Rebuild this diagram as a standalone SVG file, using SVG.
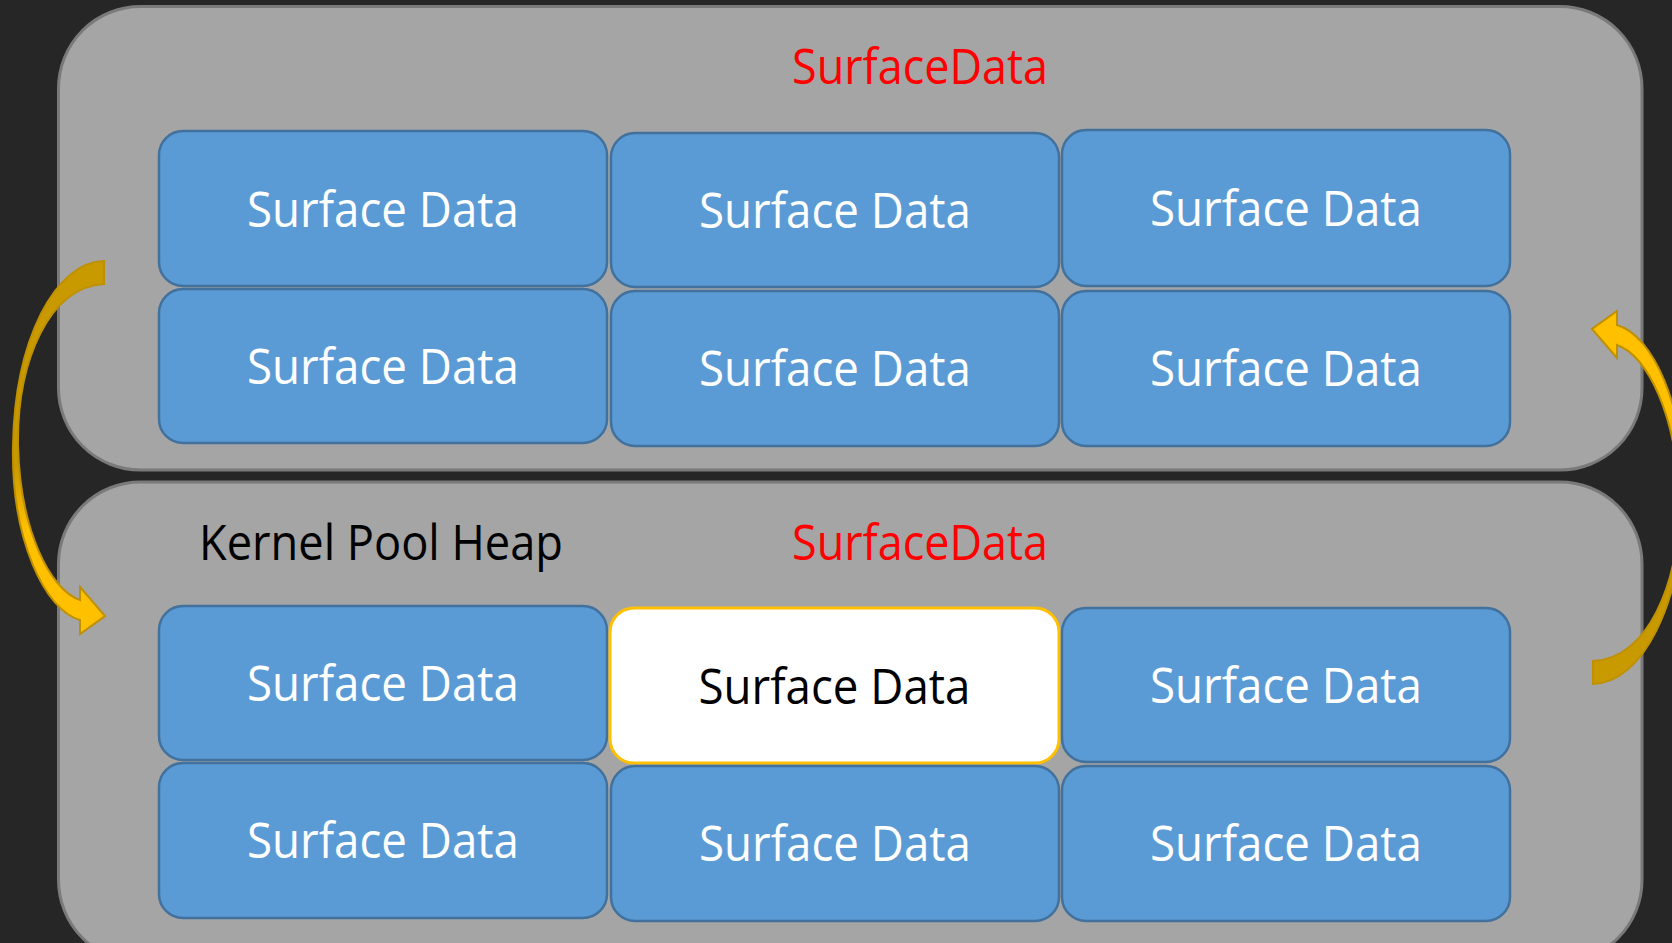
<svg xmlns="http://www.w3.org/2000/svg" width="1672" height="943" viewBox="0 0 1672 943">
<style>
.panel{fill:#a5a5a5;stroke:#7a7a7a;stroke-width:3}
.box{fill:#5b9bd5;stroke:#41719c;stroke-width:2.5}
.sel{fill:#ffffff;stroke:#ffc000;stroke-width:3}
.lbl{font-family:"Open Sans","Liberation Sans",sans-serif;font-size:50px;text-anchor:middle;fill:#ffffff}
.dark{fill:#000000}
.title{font-family:"Open Sans","Liberation Sans",sans-serif;font-size:50px;fill:#ff0000;text-anchor:middle}
.heap{font-family:"Open Sans","Liberation Sans",sans-serif;font-size:50px;fill:#000000}
.arrow{stroke:#bf9000;stroke-width:2;stroke-linejoin:miter}
</style>
<defs>
<linearGradient id="gold" gradientUnits="userSpaceOnUse" x1="0" y1="261" x2="0" y2="634">
<stop offset="0" stop-color="#c99a00"/>
<stop offset="0.55" stop-color="#c99a00"/>
<stop offset="0.72" stop-color="#ffc000"/>
<stop offset="1" stop-color="#ffc000"/>
</linearGradient>
<path id="curved" class="arrow" fill="url(#gold)" d="M104,261 C55,262 15,340 13,445 C11,540 45,610 80,620 L80,634 L105,616 L80,587 L80,600 C50,590 20,530 18,445 C17,360 50,286 104,284 Z"/>
</defs>
<rect width="1672" height="943" fill="#262626"/>
<g id="panel-top">
<rect class="panel" x="58.5" y="6.5" width="1583.5" height="463.5" rx="82" ry="82"/>
<text class="title" x="920" y="84" textLength="256" lengthAdjust="spacingAndGlyphs">SurfaceData</text>
</g>
<g id="panel-bottom">
<rect class="panel" x="58.5" y="482" width="1583.5" height="480" rx="82" ry="82"/>
<text class="heap" x="199" y="560" textLength="364" lengthAdjust="spacingAndGlyphs">Kernel Pool Heap</text>
<text class="title" x="920" y="560" textLength="256" lengthAdjust="spacingAndGlyphs">SurfaceData</text>
</g>
<g id="node-a1"><rect class="box" x="159" y="131" width="448" height="155" rx="24"/><text class="lbl" x="383" y="227" textLength="272" lengthAdjust="spacingAndGlyphs">Surface Data</text></g>
<g id="node-a2"><rect class="box" x="611" y="133" width="448" height="154" rx="24"/><text class="lbl" x="835" y="228" textLength="272" lengthAdjust="spacingAndGlyphs">Surface Data</text></g>
<g id="node-a3"><rect class="box" x="1062" y="130" width="448" height="156" rx="24"/><text class="lbl" x="1286" y="226" textLength="272" lengthAdjust="spacingAndGlyphs">Surface Data</text></g>
<g id="node-b1"><rect class="box" x="159" y="289" width="448" height="154" rx="24"/><text class="lbl" x="383" y="384" textLength="272" lengthAdjust="spacingAndGlyphs">Surface Data</text></g>
<g id="node-b2"><rect class="box" x="611" y="291" width="448" height="155" rx="24"/><text class="lbl" x="835" y="386" textLength="272" lengthAdjust="spacingAndGlyphs">Surface Data</text></g>
<g id="node-b3"><rect class="box" x="1062" y="291" width="448" height="155" rx="24"/><text class="lbl" x="1286" y="386" textLength="272" lengthAdjust="spacingAndGlyphs">Surface Data</text></g>
<g id="node-c1"><rect class="box" x="159" y="606" width="448" height="154" rx="24"/><text class="lbl" x="383" y="701" textLength="272" lengthAdjust="spacingAndGlyphs">Surface Data</text></g>
<g id="node-c2"><rect class="sel" x="610" y="608" width="449" height="155" rx="24"/><text class="lbl dark" x="834.5" y="704" textLength="272" lengthAdjust="spacingAndGlyphs">Surface Data</text></g>
<g id="node-c3"><rect class="box" x="1062" y="608" width="448" height="154" rx="24"/><text class="lbl" x="1286" y="703" textLength="272" lengthAdjust="spacingAndGlyphs">Surface Data</text></g>
<g id="node-d1"><rect class="box" x="159" y="763" width="448" height="155" rx="24"/><text class="lbl" x="383" y="858" textLength="272" lengthAdjust="spacingAndGlyphs">Surface Data</text></g>
<g id="node-d2"><rect class="box" x="611" y="766" width="448" height="155" rx="24"/><text class="lbl" x="835" y="861" textLength="272" lengthAdjust="spacingAndGlyphs">Surface Data</text></g>
<g id="node-d3"><rect class="box" x="1062" y="766" width="448" height="155" rx="24"/><text class="lbl" x="1286" y="861" textLength="272" lengthAdjust="spacingAndGlyphs">Surface Data</text></g>
<g id="connectors">
<use href="#curved"/>
<use href="#curved" transform="rotate(180 848.5 472.5)"/>
</g>
</svg>
